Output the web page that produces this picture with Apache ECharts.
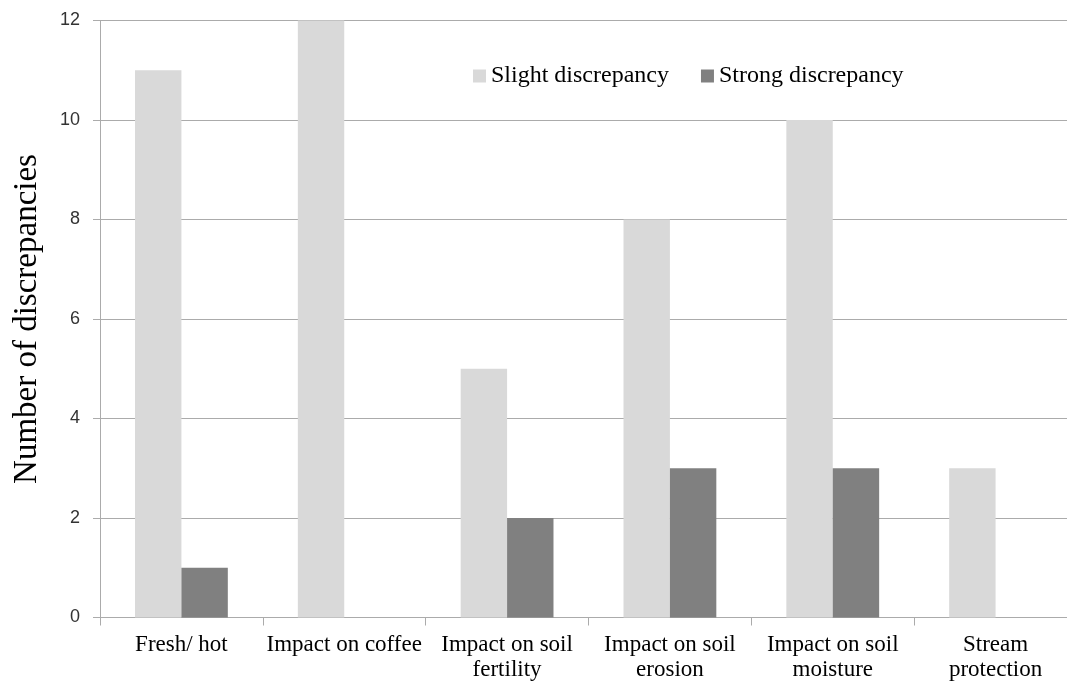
<!DOCTYPE html>
<html>
<head>
<meta charset="utf-8">
<script src="https://cdn.jsdelivr.net/npm/echarts@6/dist/echarts.min.js"></script>
<style>
  html, body { margin: 0; padding: 0; background: #fff; }
  #chart { width: 1067px; height: 681px; }
</style>
</head>
<body>
<div id="chart"></div>
<script>
// Discrepancy counts per topic
const categories = [
  'Fresh/ hot',
  'Impact on coffee',
  'Impact on soil\nfertility',
  'Impact on soil\nerosion',
  'Impact on soil\nmoisture',
  'Stream\nprotection'
];
const slightValues = [11, 12, 5, 8, 10, 3];
const strongValues = [1, 0, 2, 3, 3, 0];
const seriesNames = ['Slight discrepancy', 'Strong discrepancy'];

const serif = '"Liberation Serif", "Times New Roman", serif';
const sans = '"Liberation Sans", Arial, sans-serif';
const lineColor = '#ababab';

const chart = echarts.init(document.getElementById('chart'));
chart.setOption({
  animation: false,
  backgroundColor: '#fff',
  // the plot runs slightly past the right edge of the canvas
  grid: {
    left: 100, right: -10, top: 20.5, bottom: 63.5,
    containLabel: false, outerBoundsMode: 'none'
  },
  legend: {
    left: 473, top: 64, padding: 0,
    itemWidth: 13, itemHeight: 13, itemGap: 32,
    icon: 'rect',
    textStyle: { fontFamily: serif, fontSize: 24, color: '#000' },
    data: seriesNames
  },
  xAxis: {
    type: 'category',
    data: categories,
    axisLine: { lineStyle: { color: lineColor, width: 1 } },
    axisTick: { show: true, length: 8, lineStyle: { color: lineColor } },
    axisLabel: { fontFamily: serif, fontSize: 23, color: '#000', lineHeight: 25, margin: 15, interval: 0 }
  },
  yAxis: {
    type: 'value',
    min: 0, max: 12, interval: 2,
    name: 'Number of discrepancies',
    nameLocation: 'middle',
    nameGap: 56,
    nameTextStyle: { fontFamily: serif, fontSize: 33, color: '#000' },
    axisLine: { show: true, lineStyle: { color: lineColor, width: 1 } },
    axisTick: { show: true, length: 7, lineStyle: { color: lineColor } },
    axisLabel: { fontFamily: sans, fontSize: 18, color: '#333', margin: 20 },
    splitLine: { lineStyle: { color: lineColor, width: 1 } }
  },
  series: [
    {
      name: seriesNames[0], type: 'bar', data: slightValues,
      itemStyle: { color: '#d9d9d9' },
      barGap: '0%', barCategoryGap: '43%'
    },
    {
      name: seriesNames[1], type: 'bar', data: strongValues,
      itemStyle: { color: '#808080' },
      barGap: '0%', barCategoryGap: '43%'
    }
  ]
});
</script>
</body>
</html>
